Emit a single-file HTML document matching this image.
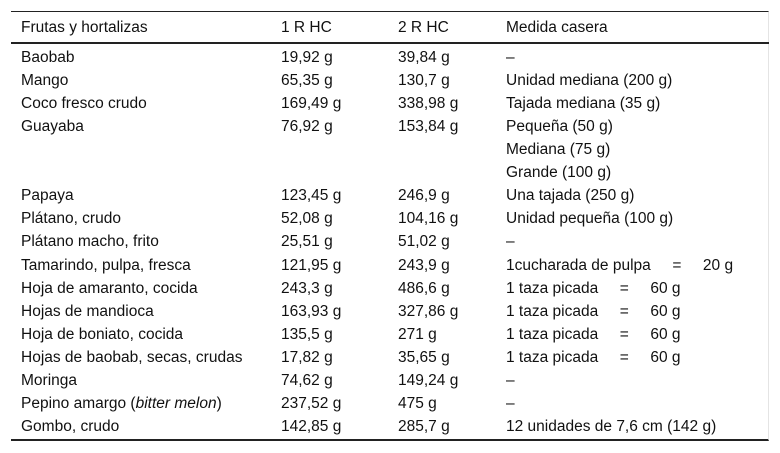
<!DOCTYPE html>
<html><head><meta charset="utf-8"><style>
body{margin:0;width:780px;height:453px;background:#fff;font-family:"Liberation Sans",sans-serif;font-size:15.5px;color:#111;position:relative;overflow:hidden}
.t{position:absolute;left:11px;top:11px;width:758px;height:430px;border-top:1px solid #222;border-bottom:2px solid #222;border-right:1px solid #e4e4e4;box-sizing:border-box}
.hl{position:absolute;left:11px;top:42px;width:758px;height:2px;background:#222}
.r{position:absolute;left:0;height:23px;line-height:23px;white-space:pre}
.c{position:absolute;top:0}
.c1{left:21px}.c2{left:281px}.c3{left:398px}.c4{left:506px}
</style></head><body>
<div class="t"></div>
<div class="r" style="top:16px"><span class="c c1">Frutas y hortalizas</span><span class="c c2">1 R HC</span><span class="c c3">2 R HC</span><span class="c c4">Medida casera</span></div>
<div class="hl"></div>
<div id="body"></div>
<script>
const rows=[
["Baobab","19,92 g","39,84 g","–"],
["Mango","65,35 g","130,7 g","Unidad mediana (200 g)"],
["Coco fresco crudo","169,49 g","338,98 g","Tajada mediana (35 g)"],
["Guayaba","76,92 g","153,84 g","Pequeña (50 g)"],
["","","","Mediana (75 g)"],
["","","","Grande (100 g)"],
["Papaya","123,45 g","246,9 g","Una tajada (250 g)"],
["Plátano, crudo","52,08 g","104,16 g","Unidad pequeña (100 g)"],
["Plátano macho, frito","25,51 g","51,02 g","–"],
["Tamarindo, pulpa, fresca","121,95 g","243,9 g","1cucharada de pulpa     =     20 g"],
["Hoja de amaranto, cocida","243,3 g","486,6 g","1 taza picada     =     60 g"],
["Hojas de mandioca","163,93 g","327,86 g","1 taza picada     =     60 g"],
["Hoja de boniato, cocida","135,5 g","271 g","1 taza picada     =     60 g"],
["Hojas de baobab, secas, crudas","17,82 g","35,65 g","1 taza picada     =     60 g"],
["Moringa","74,62 g","149,24 g","–"],
["Pepino amargo (<i>bitter melon</i>)","237,52 g","475 g","–"],
["Gombo, crudo","142,85 g","285,7 g","12 unidades de 7,6 cm (142 g)"]];
const b=document.getElementById('body');
rows.forEach((r,i)=>{
 const d=document.createElement('div');d.className='r';d.style.top=(46+i*23.06)+'px';
 
 
 r.forEach((v,j)=>{const s=document.createElement('span');s.className='c c'+(j+1);s.innerHTML=v;
 
 
 d.appendChild(s);});
 b.appendChild(d);
});
</script>
</body></html>
